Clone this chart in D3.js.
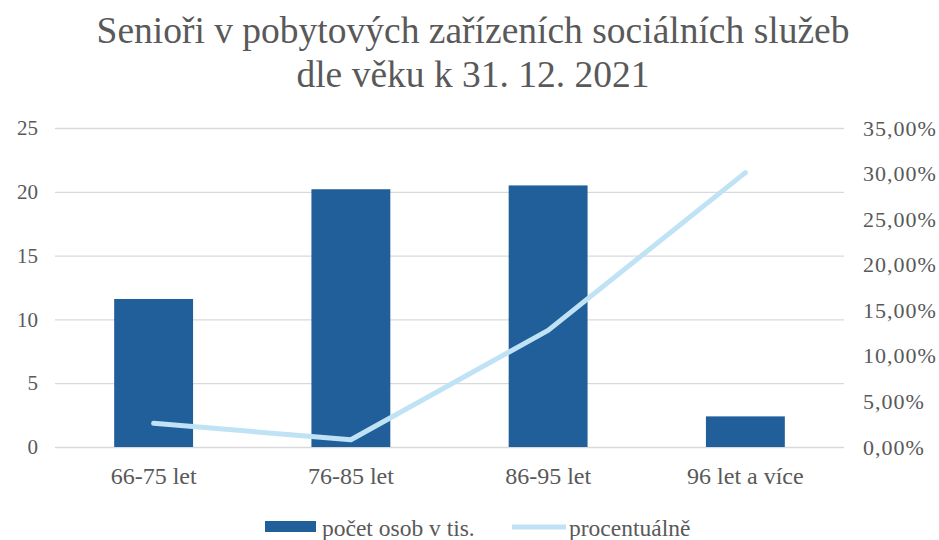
<!DOCTYPE html>
<html>
<head>
<meta charset="utf-8">
<script src="https://cdn.jsdelivr.net/npm/d3@7"></script>
<style>
  html, body { margin: 0; padding: 0; background: #fff; }
  svg { display: block; }
  svg text { fill: #595959; }
</style>
</head>
<body>
<svg id="chart" width="939" height="540"></svg>
<script>
const titleLines = ["Senioři v pobytových zařízeních sociálních služeb", "dle věku k 31. 12. 2021"];
const categories = ["66-75 let", "76-85 let", "86-95 let", "96 let a více"];
const countValues = [11.6, 20.2, 20.5, 2.4];        // počet osob v tis.
const percentValues = [2.6, 0.8, 12.8, 30.1];       // procentuálně (%)
const leftTicks = [0, 5, 10, 15, 20, 25];
const rightTicks = [0, 5, 10, 15, 20, 25, 30, 35];
const seriesNames = ["počet osob v tis.", "procentuálně"];

const barColor = "#215f9a";
const lineColor = "#bfe3f5";
const gridColor = "#d9d9d9";
const serif = '"Liberation Serif", Tinos, "Times New Roman", Times, "DejaVu Serif", serif';

const svg = d3.select("#chart");
const margin = { left: 55, right: 95, top: 128, bottom: 93 };
const W = 939, H = 540;

const x = d3.scaleBand().domain(categories).range([margin.left, W - margin.right])
  .paddingInner(0.6).paddingOuter(0.3);
const yL = d3.scaleLinear().domain([0, 25]).range([H - margin.bottom, margin.top]);
const yR = d3.scaleLinear().domain([0, 35]).range([H - margin.bottom, margin.top]);

// title
const title = svg.append("text").attr("text-anchor", "middle")
  .attr("font-family", serif).style("font-size", "37.5px");
titleLines.forEach((t, i) => {
  title.append("tspan").attr("x", 473).attr("y", 43 + i * 44).text(t);
});

// grid
svg.append("g").attr("transform", `translate(${margin.left},0)`)
  .call(d3.axisLeft(yL).tickValues(leftTicks).tickSize(-(W - margin.left - margin.right)).tickFormat(""))
  .call(g => g.select(".domain").remove())
  .call(g => g.selectAll("line").attr("stroke", gridColor).attr("stroke-width", 1.3));

// left axis labels
svg.append("g").attr("transform", `translate(${margin.left},0)`)
  .call(d3.axisLeft(yL).tickValues(leftTicks).tickSize(0).tickPadding(17))
  .attr("font-family", serif)
  .call(g => g.select(".domain").remove())
  .call(g => g.selectAll("text").style("font-size", "21px").attr("fill", "#595959"));

// right axis labels
const fmtPct = v => d3.format(".2f")(v).replace(".", ",") + "%";
svg.append("g").attr("transform", `translate(${W - margin.right},0)`)
  .call(d3.axisRight(yR).tickValues(rightTicks).tickSize(0).tickPadding(19).tickFormat(fmtPct))
  .attr("font-family", serif)
  .call(g => g.select(".domain").remove())
  .call(g => g.selectAll("text").style("font-size", "22px").style("letter-spacing", "1px")
     .attr("fill", "#595959"));

// bars
svg.append("g").selectAll("rect").data(categories).join("rect")
  .attr("x", d => x(d)).attr("width", x.bandwidth())
  .attr("y", (d, i) => yL(countValues[i]))
  .attr("height", (d, i) => yL(0) - yL(countValues[i]))
  .attr("fill", barColor);

// line
const line = d3.line().x((d, i) => x(categories[i]) + x.bandwidth() / 2).y(d => yR(d));
svg.append("path").datum(percentValues).attr("d", line)
  .attr("fill", "none").attr("stroke", lineColor).attr("stroke-width", 5)
  .attr("stroke-linecap", "round").attr("stroke-linejoin", "round");

// x axis labels
svg.append("g").attr("transform", `translate(0,${H - margin.bottom})`)
  .call(d3.axisBottom(x).tickSize(0).tickPadding(20))
  .attr("font-family", serif)
  .call(g => g.select(".domain").remove())
  .call(g => g.selectAll("text").style("font-size", "24px").attr("fill", "#595959"));

// legend
const lg = svg.append("g").attr("font-family", serif);
lg.append("rect").attr("x", 265).attr("y", 521).attr("width", 51).attr("height", 11).attr("fill", barColor);
lg.append("text").attr("x", 322).attr("y", 536).style("font-size", "23.5px").text(seriesNames[0]);
lg.append("line").attr("x1", 512).attr("x2", 566).attr("y1", 527).attr("y2", 527)
  .attr("stroke", lineColor).attr("stroke-width", 5);
lg.append("text").attr("x", 569).attr("y", 536).style("font-size", "23.5px").text(seriesNames[1]);
</script>
</body>
</html>
